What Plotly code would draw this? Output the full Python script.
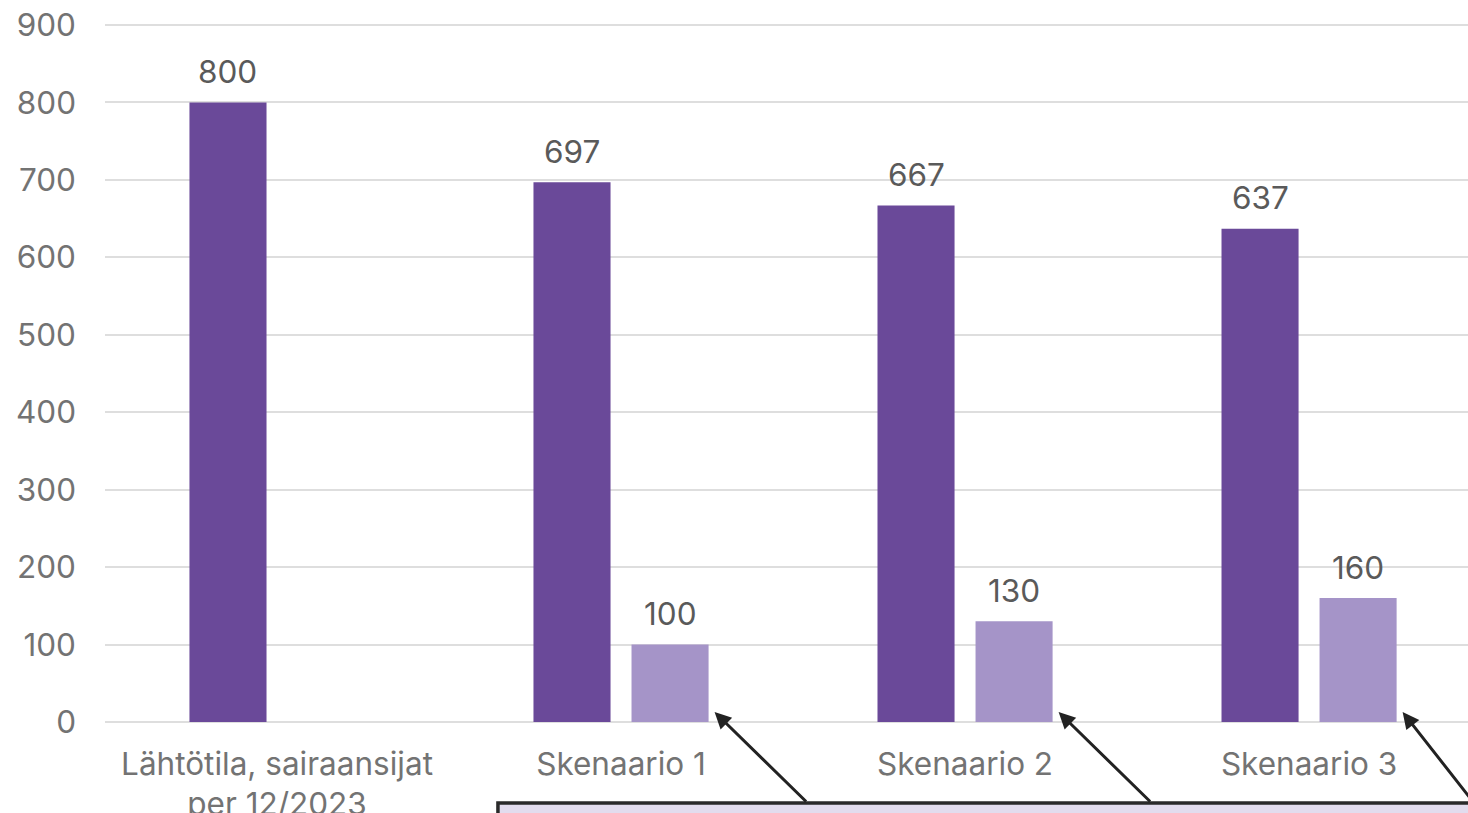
import plotly.graph_objects as go

categories = ["Lähtötila, sairaansijat<br>per 12/2023", "Skenaario 1", "Skenaario 2", "Skenaario 3"]
dark_values = [800, 697, 667, 637]
light_values = [None, 100, 130, 160]
y_ticks = [0, 100, 200, 300, 400, 500, 600, 700, 800, 900]

DARK = "#6A4999"
LIGHT = "#A594C8"
FONT = "Inter"
BARGAP = 0.43
GROUPGAP = 0.214
FS = 31.5

fig = go.Figure()
fig.add_trace(go.Bar(x=categories, y=dark_values, marker=dict(color=DARK, line=dict(width=0)), hoverinfo="skip"))
fig.add_trace(go.Bar(x=categories, y=light_values, marker=dict(color=LIGHT, line=dict(width=0)), hoverinfo="skip"))

slot = (1 - BARGAP) / 2
bar_w = slot * (1 - GROUPGAP)
annotations = []
for i, v in enumerate(dark_values):
    if v is not None:
        annotations.append(dict(x=i - slot / 2, y=v, xref="x", yref="y", text=str(v), showarrow=False,
                                yanchor="middle", yshift=31, font=dict(family=FONT, size=FS, color="#5a5a5a")))
for i, v in enumerate(light_values):
    if v is not None:
        annotations.append(dict(x=i + slot / 2, y=v, xref="x", yref="y", text=str(v), showarrow=False,
                                yanchor="middle", yshift=31, font=dict(family=FONT, size=FS, color="#5a5a5a")))
        # arrows pointing to the bottom-right corner of the light bars
        annotations.append(dict(x=i + slot / 2 + bar_w / 2, y=0, xref="x", yref="y", text="", showarrow=True,
                                xshift=6, yshift=10, ax=93, ay=91, arrowhead=2, arrowsize=1.1, arrowwidth=3,
                                arrowcolor="#222222"))

# plot area: top 20 px, bottom 91 px -> 702 px tall; 0 at y=722, 900 at y=25
fig.update_layout(
    width=1468, height=813,
    margin=dict(l=105, r=0, t=20, b=91, autoexpand=False),
    paper_bgcolor="white", plot_bgcolor="white",
    barmode="group", bargap=BARGAP, bargroupgap=GROUPGAP,
    showlegend=False,
    font=dict(family=FONT, size=FS, color="#737373"),
    annotations=annotations,
    shapes=[dict(type="rect", xref="paper", yref="paper", x0=0.2883, x1=1.2, y0=-0.5, y1=-0.1154,
                 line=dict(color="#2a2a2a", width=3.5), fillcolor="#E2DCEE", layer="below")],
)
fig.update_xaxes(range=[-0.5, 3.462], showgrid=False, showline=False, ticks="", automargin=False,
                 tickfont=dict(family=FONT, size=FS, color="#737373"), ticklabelstandoff=20)
fig.update_yaxes(range=[0, 906.5], tickvals=y_ticks, showgrid=True, gridcolor="#DEDEDE", gridwidth=2,
                 zeroline=True, zerolinecolor="#DEDEDE", zerolinewidth=2, showline=False, ticks="",
                 automargin=False,
                 tickfont=dict(family=FONT, size=FS, color="#737373"), ticklabelstandoff=28)

fig.write_html("out.html")
